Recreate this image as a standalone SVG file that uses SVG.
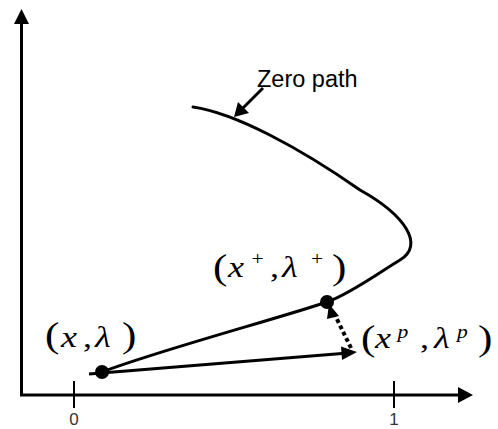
<svg xmlns="http://www.w3.org/2000/svg" width="498" height="429" viewBox="0 0 498 429">
<style>
.ax{stroke:#000;stroke-width:3;fill:none}
.tick{stroke:#000;stroke-width:2}
.curve{stroke:#000;stroke-width:3;fill:none;stroke-linecap:round}
.arr{stroke:#000;stroke-width:3;fill:none}
.dot{fill:#000}
.head{fill:#000}
.num{font-family:"Liberation Sans",Arial,sans-serif;font-size:17px;fill:#333}
.lbl{font-family:"Liberation Sans",Arial,sans-serif;font-size:23.5px;fill:#000}
.math{font-family:"Liberation Serif","Times New Roman",serif;font-size:30px;fill:#000}
.it{font-style:italic}
.par{font-size:36px}
.sup{font-size:18px;font-style:italic}
.up{font-size:18px}
</style>
<rect width="498" height="429" fill="#fff"/>
<g id="axes">
<line class="ax" x1="21.5" y1="396" x2="21.5" y2="22"/>
<polygon class="head" points="14,24 29,24 21.5,9"/>
<line class="ax" x1="20" y1="395" x2="460" y2="395"/>
<polygon class="head" points="458,387 458,403 473,395"/>
<line class="tick" x1="74" y1="381" x2="74" y2="408"/>
<line class="tick" x1="394" y1="381" x2="394" y2="408"/>
<text class="num" x="74" y="425" text-anchor="middle">0</text>
<text class="num" x="394" y="425" text-anchor="middle">1</text>
</g>
<g id="zero-path">
<path class="curve" d="M193,107 C235,113 300,148 360,190 C405,215 425,245 400,260 C380,272 350,294 327,302 C280,318 160,350 102,372"/>
</g>
<g id="connectors">
<line class="arr" x1="89" y1="374" x2="342" y2="353.5"/>
<polygon class="head" points="357,352 341,346.5 342,360"/>
<line x1="351" y1="348" x2="334" y2="313" stroke="#000" stroke-width="4" stroke-dasharray="4,3"/>
<polygon class="head" points="329,304 339,316 327,319"/>
<line class="arr" x1="263" y1="88" x2="242" y2="109"/>
<polygon class="head" points="234,117 238,102 249,113"/>
</g>
<g id="label-zero-path">
<text class="lbl" x="257" y="87">Zero path</text>
</g>
<g id="node-x-lambda">
<circle class="dot" cx="102" cy="372" r="7"/>
<text class="math" transform="scale(1.2,1)"><tspan class="par" x="37.5" y="347">(</tspan><tspan class="it" x="50.8" y="347">x</tspan><tspan x="69.2" y="347">,</tspan><tspan class="it" x="79.2" y="347">λ</tspan><tspan class="par" x="101.7" y="347">)</tspan></text>
</g>
<g id="node-x-plus">
<circle class="dot" cx="327" cy="302" r="7"/>
<text class="math" transform="scale(1.2,1)"><tspan class="par" x="177.5" y="279">(</tspan><tspan class="it" x="190" y="277">x</tspan><tspan class="up" x="209.6" y="265">+</tspan><tspan x="225" y="277">,</tspan><tspan class="it" x="235" y="277">λ</tspan><tspan class="up" x="259.2" y="265">+</tspan><tspan class="par" x="276.7" y="279">)</tspan></text>
</g>
<g id="node-x-p">
<text class="math" transform="scale(1.2,1)"><tspan class="par" x="300.8" y="350">(</tspan><tspan class="it" x="312.5" y="348">x</tspan><tspan class="sup" x="331.2" y="338">p</tspan><tspan x="350" y="348">,</tspan><tspan class="it" x="361.7" y="348">λ</tspan><tspan class="sup" x="380.8" y="338">p</tspan><tspan class="par" x="398.3" y="350">)</tspan></text>
</g>
</svg>
